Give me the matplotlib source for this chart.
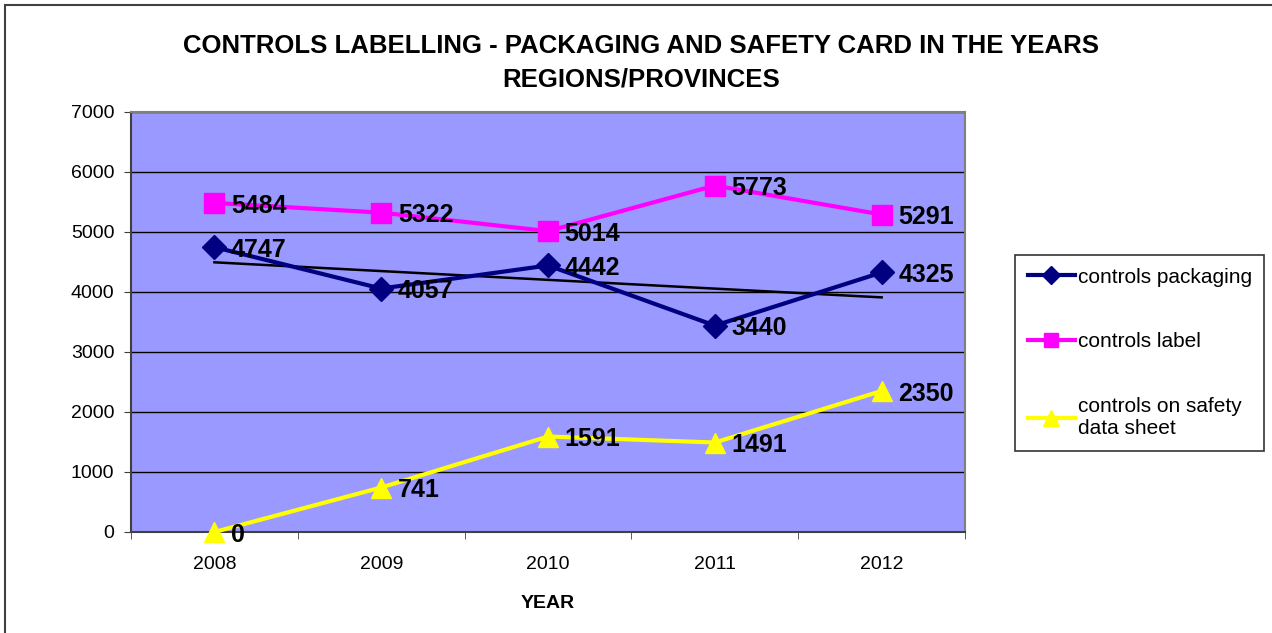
import numpy as np
import matplotlib.pyplot as plt
from matplotlib.patches import Rectangle

# data
years = ['2008', '2009', '2010', '2011', '2012']
packaging = [4747, 4057, 4442, 3440, 4325]
label = [5484, 5322, 5014, 5773, 5291]
safety = [0, 741, 1591, 1491, 2350]

plt.rcParams['font.family'] = ['Liberation Sans', 'DejaVu Sans']

fig = plt.figure(figsize=(12.72, 6.33), dpi=100)
ax = fig.add_axes([0.103, 0.1596, 0.6557, 0.6635])
ax.set_facecolor('#9999FF')

x = np.arange(1, len(years) + 1)

l1, = ax.plot(x, packaging, color='#000080', lw=3, marker='D', ms=12,
              label='controls packaging', clip_on=False, zorder=4)
l2, = ax.plot(x, label, color='#FF00FF', lw=3, marker='s', ms=14,
              label='controls label', clip_on=False, zorder=4)
l3, = ax.plot(x, safety, color='#FFFF00', lw=3, marker='^', ms=15,
              label='controls on safety\ndata sheet', clip_on=False, zorder=4)

# linear trend of packaging
k, b = np.polyfit(x, packaging, 1)
ax.plot(x, k * x + b, color='black', lw=1.8, zorder=3)

# value labels
for series in (packaging, label, safety):
    for xi, v in zip(x, series):
        ax.annotate(str(v), (xi, v), xytext=(12, -2), textcoords='offset points',
                    ha='left', va='center', fontsize=18, fontweight='bold',
                    zorder=5, annotation_clip=False)

ax.set_xlim(0.5, 5.5)
ax.set_ylim(0, 7000)
ax.set_yticks(range(0, 7001, 1000))
ax.set_xticks(x)
ax.set_xticklabels(years)
ax.set_xticks(np.arange(0.5, 5.6, 1), minor=True)
ax.tick_params(axis='x', which='major', length=0, labelsize=14, pad=17)
ax.tick_params(axis='x', which='minor', length=5, color='#404040')
ax.tick_params(axis='y', length=5, color='#404040', labelsize=14, pad=7)
ax.grid(axis='y', color='black', lw=1)
ax.set_axisbelow(True)
for s in ax.spines.values():
    s.set_color('#808080')
    s.set_linewidth(1.5)
ax.spines['bottom'].set_color('#404040')
ax.spines['left'].set_color('#404040')

ax.set_xlabel('YEAR', fontsize=14, fontweight='bold', labelpad=16)

fig.text(0.504, 0.927, 'CONTROLS LABELLING - PACKAGING AND SAFETY CARD IN THE YEARS',
         ha='center', va='center', fontsize=18.5, fontweight='bold')
fig.text(0.504, 0.874, 'REGIONS/PROVINCES',
         ha='center', va='center', fontsize=18.5, fontweight='bold')

leg = fig.legend(handles=[l1, l2, l3], loc='upper left',
                 bbox_to_anchor=(1015 / 1272, 1 - 255 / 633),
                 frameon=True, fancybox=False, edgecolor='black',
                 fontsize=15, labelspacing=2.2, handlelength=2.3,
                 handletextpad=0.1, borderpad=0.6, borderaxespad=0,
                 markerscale=0.75)
leg.get_frame().set_linewidth(1.2)

# outer chart border
fig.patches.append(Rectangle((0.004, -0.1), 1.2, 1.092, transform=fig.transFigure,
                             fill=False, edgecolor='#404040', lw=1.5))

fig.savefig('out.png', dpi=100)
